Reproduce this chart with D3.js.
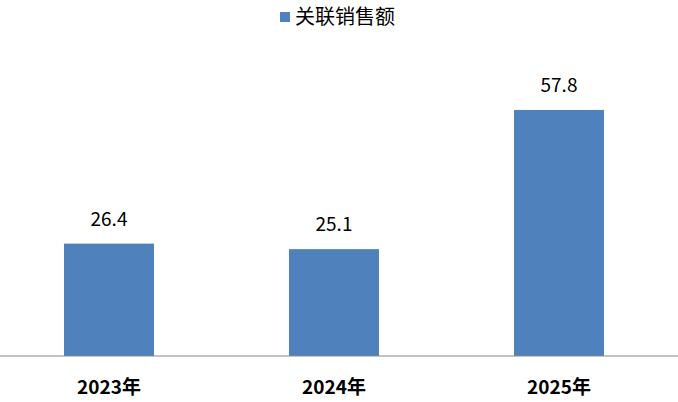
<!DOCTYPE html>
<html>
<head>
<meta charset="utf-8">
<script src="https://cdn.jsdelivr.net/npm/d3@7"></script>
<style>
  body { margin: 0; background: #fff; }
  svg { display: block; font-family: "Noto Sans CJK SC", "Microsoft YaHei", sans-serif; }
</style>
</head>
<body>
<div id="chart"></div>
<script>
var categories = ["2023年", "2024年", "2025年"];
var values = [26.4, 25.1, 57.8];
var seriesName = "关联销售额";

var w = 678;
var h = 402;
var baseY = 356;

var svg = d3.select("#chart")
    .append("svg")
    .attr("width", w)
    .attr("height", h);

var x = d3.scaleBand()
    .domain(categories)
    .range([-3.5, 671.5])
    .paddingInner(0.6)
    .paddingOuter(0.3);

var y = d3.scaleLinear()
    .domain([0, 70])
    .range([baseY, 58]);

// bars
svg.selectAll("rect.bar")
    .data(values)
    .enter()
    .append("rect")
    .attr("class", "bar")
    .attr("x", function (d, i) { return x(categories[i]); })
    .attr("y", function (d) { return y(d); })
    .attr("width", x.bandwidth())
    .attr("height", function (d) { return baseY - y(d); })
    .attr("fill", "#4F81BD");

// value labels
svg.selectAll("text.val")
    .data(values)
    .enter()
    .append("text")
    .attr("class", "val")
    .attr("x", function (d, i) { return x(categories[i]) + x.bandwidth() / 2; })
    .attr("y", function (d) { return y(d) - 18; })
    .attr("text-anchor", "middle")
    .attr("font-size", "19px")
    .attr("fill", "#000")
    .text(function (d) { return d.toFixed(1); });

// x axis
var axis = svg.append("g")
    .attr("transform", "translate(0," + baseY + ")")
    .call(d3.axisBottom(x).tickSize(0).tickPadding(25));
axis.select(".domain").remove();
axis.append("line")
    .attr("x1", 0).attr("x2", w)
    .attr("stroke", "#898989")
    .attr("stroke-width", 1);
axis.selectAll(".tick text")
    .attr("font-family", "\"Noto Sans CJK SC\", sans-serif")
    .attr("font-size", "19px")
    .attr("font-weight", "bold")
    .attr("fill", "#000");

// legend
var legend = svg.append("g").attr("transform", "translate(280,0)");
legend.append("rect")
    .attr("x", 0).attr("y", 12)
    .attr("width", 10).attr("height", 10)
    .attr("fill", "#4F81BD");
legend.append("text")
    .attr("x", 15).attr("y", 24)
    .attr("font-size", "20px")
    .attr("fill", "#000")
    .text(seriesName);
</script>
</body>
</html>
